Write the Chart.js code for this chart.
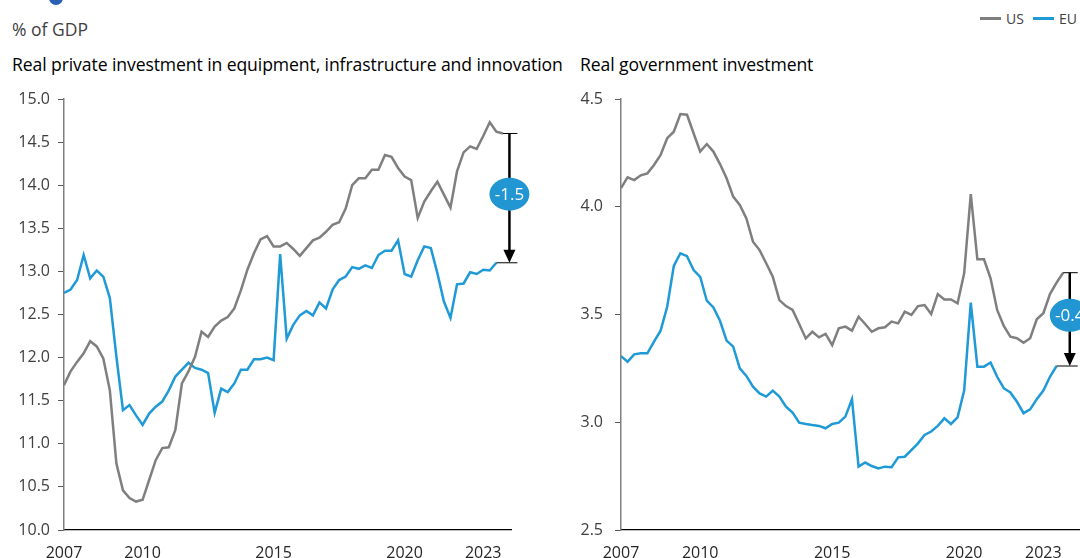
<!DOCTYPE html>
<html><head><meta charset="utf-8">
<script src="https://cdn.jsdelivr.net/npm/chart.js@4.4.1/dist/chart.umd.min.js"></script>
<style>
html,body{margin:0;padding:0;background:#fff;}
body{width:1080px;height:558px;position:relative;overflow:hidden;font-family:"Open Sans",sans-serif;}
canvas{position:absolute;top:0;}
#c1{left:0;}
#c2{left:540px;}
.t{position:absolute;white-space:nowrap;color:#000;line-height:1;}
#dot{position:absolute;left:49px;top:-9px;width:14px;height:14px;border-radius:50%;background:#2b5fb4;}
.lg{position:absolute;top:9px;font-size:14px;color:#404040;display:flex;align-items:center;white-space:nowrap;}
.lg span.l{display:inline-block;width:21px;height:2.5px;margin-right:5px;}
</style></head><body>
<div id="dot"></div>
<div class="t" style="left:12px;top:21px;font-size:17.5px;color:#404040;">% of GDP</div>
<div class="t" style="left:12px;top:56px;font-size:17.6px;letter-spacing:-0.1px;">Real private investment in equipment, infrastructure and innovation</div>
<div class="t" style="left:580px;top:56px;font-size:17.6px;letter-spacing:-0.1px;">Real government investment</div>
<div class="lg" style="left:980px;"><span class="l" style="background:#7f7f7f"></span>US</div>
<div class="lg" style="left:1033px;"><span class="l" style="background:#1f9ad6"></span>EU</div>
<canvas id="c1" width="540" height="558" style="width:540px;height:558px"></canvas>
<canvas id="c2" width="540" height="558" style="width:540px;height:558px"></canvas>
<script>
// Quarterly data from 2007Q1
const startYear = 2007;
const xTickYears = [2007, 2010, 2015, 2020, 2023];

const privateUS = [11.68,11.84,11.95,12.05,12.19,12.13,11.99,11.62,10.77,10.46,
  10.37,10.33,10.35,10.58,10.81,10.95,10.96,11.16,11.70,11.84,
  12.01,12.30,12.24,12.36,12.43,12.47,12.57,12.78,13.02,13.21,
  13.37,13.41,13.29,13.29,13.33,13.26,13.18,13.27,13.36,13.39,
  13.46,13.54,13.57,13.73,14.00,14.08,14.08,14.18,14.18,14.35,
  14.33,14.20,14.10,14.06,13.62,13.81,13.93,14.04,13.89,13.74,
  14.16,14.38,14.45,14.42,14.57,14.73,14.62,14.60];
const privateEU = [12.75,12.79,12.90,13.19,12.92,13.01,12.94,12.69,12.01,11.39,
  11.45,11.33,11.22,11.35,11.43,11.49,11.62,11.78,11.86,11.94,
  11.88,11.86,11.82,11.36,11.64,11.60,11.70,11.86,11.86,11.98,
  11.98,12.00,11.97,13.20,12.22,12.38,12.49,12.54,12.49,12.64,
  12.57,12.79,12.90,12.94,13.05,13.03,13.07,13.04,13.19,13.24,
  13.24,13.36,12.97,12.94,13.13,13.29,13.27,12.98,12.65,12.46,
  12.85,12.86,12.99,12.97,13.02,13.01,13.10];
const govUS = [4.086,4.137,4.124,4.146,4.155,4.194,4.240,4.318,4.348,4.430,
  4.427,4.341,4.256,4.291,4.256,4.198,4.132,4.047,4.008,3.946,
  3.838,3.799,3.738,3.675,3.567,3.539,3.521,3.456,3.389,3.420,
  3.394,3.410,3.358,3.436,3.444,3.425,3.490,3.456,3.420,3.436,
  3.441,3.467,3.459,3.513,3.498,3.539,3.544,3.502,3.595,3.570,
  3.570,3.552,3.691,4.059,3.756,3.756,3.668,3.521,3.447,3.397,
  3.390,3.369,3.390,3.478,3.506,3.595,3.648,3.694];
const govEU = [3.307,3.281,3.315,3.320,3.320,3.374,3.425,3.536,3.725,3.784,
  3.771,3.706,3.675,3.564,3.533,3.471,3.379,3.351,3.250,3.215,
  3.165,3.134,3.119,3.147,3.119,3.072,3.045,2.998,2.992,2.987,
  2.983,2.972,2.992,2.998,3.026,3.107,2.794,2.813,2.797,2.786,
  2.794,2.791,2.837,2.840,2.871,2.902,2.941,2.957,2.983,3.018,
  2.992,3.023,3.147,3.555,3.258,3.258,3.277,3.211,3.158,3.138,
  3.095,3.042,3.060,3.107,3.147,3.211,3.261];

const toPoints = arr => arr.map((v, i) => ({x: startYear + i / 4, y: v}));

const gapPlugin = {
  id: 'gap',
  afterDatasetsDraw(chart) {
    const ctx = chart.ctx, xs = chart.scales.x, ys = chart.scales.y;
    const us = chart.data.datasets[0].data, eu = chart.data.datasets[1].data;
    const lu = us[us.length - 1], le = eu[eu.length - 1];
    const ax = xs.getPixelForValue(lu.x + 0.25);
    const yTop = ys.getPixelForValue(lu.y), yBot = ys.getPixelForValue(le.y);
    ctx.save();
    ctx.strokeStyle = '#000'; ctx.lineWidth = 1;
    ctx.beginPath();
    ctx.moveTo(xs.getPixelForValue(lu.x), yTop); ctx.lineTo(ax + 8, yTop);
    ctx.moveTo(xs.getPixelForValue(le.x), yBot); ctx.lineTo(ax + 8, yBot);
    ctx.stroke();
    ctx.lineWidth = 2.5;
    ctx.beginPath(); ctx.moveTo(ax, yTop); ctx.lineTo(ax, yBot - 10); ctx.stroke();
    ctx.fillStyle = '#000';
    ctx.beginPath(); ctx.moveTo(ax - 6, yBot - 13); ctx.lineTo(ax + 6, yBot - 13); ctx.lineTo(ax, yBot); ctx.closePath(); ctx.fill();
    const cy = (yTop + yBot) / 2 - 4;
    ctx.fillStyle = '#2196d3';
    ctx.beginPath(); ctx.ellipse(ax, cy, 20, 16.5, 0, 0, Math.PI * 2); ctx.fill();
    ctx.fillStyle = '#fff'; ctx.font = '17px "Open Sans"';
    ctx.textAlign = 'center'; ctx.textBaseline = 'middle';
    ctx.fillText((le.y - lu.y).toFixed(1), ax, cy + 1);
    ctx.restore();
  }
};

function makePanel(id, us, eu, yMin, yMax, xMax, yWidth, padRight, yPad) {
  new Chart(document.getElementById(id), {
    type: 'line',
    data: { datasets: [
      { label: 'US', data: toPoints(us), borderColor: '#7f7f7f', borderWidth: 2.5, pointRadius: 0, tension: 0 },
      { label: 'EU', data: toPoints(eu), borderColor: '#1f9ad6', borderWidth: 2.5, pointRadius: 0, tension: 0 }
    ]},
    options: {
      responsive: false, animation: false, devicePixelRatio: 1,
      layout: { padding: { top: 99, right: padRight, bottom: 0, left: 0 } },
      plugins: { legend: { display: false }, tooltip: { enabled: false } },
      scales: {
        x: {
          type: 'linear', min: startYear, max: xMax,
          afterBuildTicks: s => { s.ticks = xTickYears.map(v => ({ value: v })); },
          afterFit: s => { s.height = 28; },
          grid: { display: false },
          border: { display: true, color: '#000', width: 1.2 },
          ticks: { autoSkip: false, maxRotation: 0, padding: 6, color: '#262626',
                   font: { family: 'Open Sans', size: 16 }, callback: v => String(v) }
        },
        y: {
          min: yMin, max: yMax,
          afterFit: s => { s.width = yWidth; },
          grid: { display: true, drawOnChartArea: false, drawTicks: true, tickLength: 6, color: '#595959' },
          border: { display: true, color: '#808080', width: 1.5 },
          ticks: { stepSize: 0.5, padding: yPad, color: '#404040',
                   font: { family: 'Open Sans', size: 16 }, callback: v => v.toFixed(1) }
        }
      }
    },
    plugins: [gapPlugin]
  });
}

makePanel('c1', privateUS, privateEU, 10, 15, 2024.06, 64, 29, 8);
makePanel('c2', govUS, govEU, 2.5, 4.5, 2024.35, 81, 1, 12);
</script>
</body></html>
